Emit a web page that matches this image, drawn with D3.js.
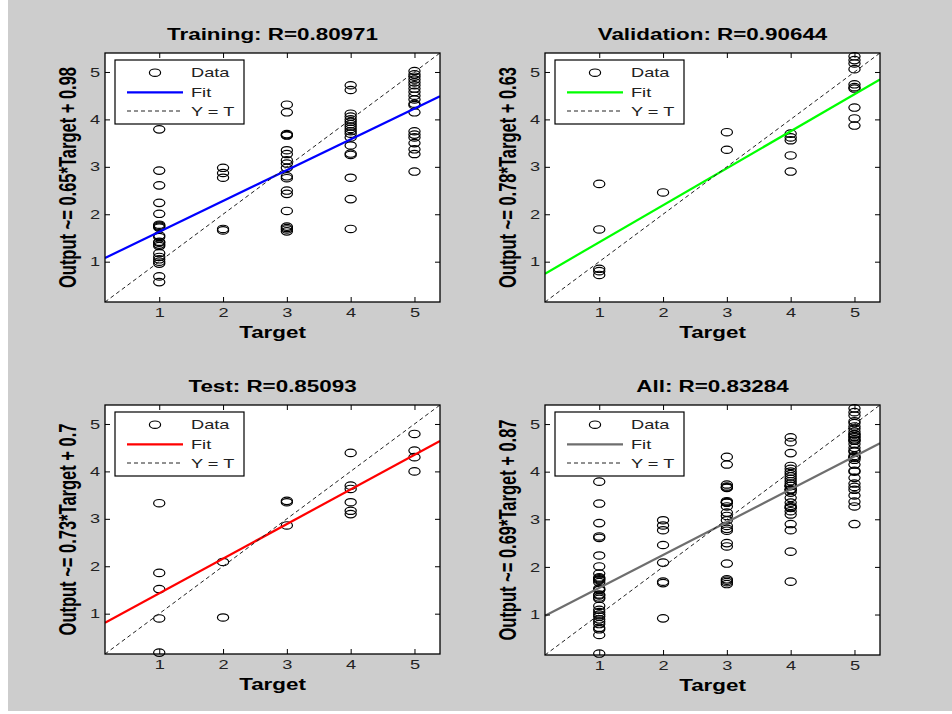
<!DOCTYPE html>
<html>
<head>
<meta charset="utf-8">
<script src="https://cdn.jsdelivr.net/npm/d3@7"></script>
<style>
  html, body { margin: 0; padding: 0; background: #ffffff; }
  svg { display: block; font-family: Arial, "Liberation Sans", sans-serif; }
</style>
</head>
<body>
<svg id="chart" width="952" height="714"></svg>
<script>
// Regression of network output against target, one panel per data subset.
const panelTitles = ["Training: R=0.80971", "Validation: R=0.90644", "Test: R=0.85093", "All: R=0.83284"];
const yAxisLabels = [
  "Output ~= 0.65*Target + 0.98",
  "Output ~= 0.78*Target + 0.63",
  "Output ~= 0.73*Target + 0.7",
  "Output ~= 0.69*Target + 0.87"
];
const fitSlopes = [0.65, 0.78, 0.73, 0.69];
const fitIntercepts = [0.98, 0.63, 0.7, 0.87];
const targetTicks = [1, 2, 3, 4, 5];
const outputTicks = [1, 2, 3, 4, 5];
const axisLimits = [0.15, 5.4];
const legendLabels = ["Data", "Fit", "Y = T"];

// Outputs grouped by target class (index 0 -> target 1, ... index 4 -> target 5)
const trainingOutputs = [
  [3.79, 2.92, 2.61, 2.24, 2.01, 1.78, 1.76, 1.74, 1.72, 1.55, 1.52, 1.42, 1.40, 1.36, 1.33, 1.18, 1.10, 1.05, 1.00, 0.96, 0.69, 0.57],
  [2.98, 2.87, 2.77, 1.69, 1.66],
  [4.31, 4.15, 3.69, 3.67, 3.66, 3.35, 3.27, 3.14, 3.07, 2.98, 2.80, 2.76, 2.50, 2.43, 2.07, 1.74, 1.71, 1.68, 1.64],
  [4.72, 4.62, 4.12, 4.06, 4.00, 3.95, 3.90, 3.85, 3.80, 3.75, 3.70, 3.62, 3.45, 3.28, 3.25, 2.77, 2.32, 1.69],
  [5.02, 4.95, 4.90, 4.84, 4.78, 4.72, 4.65, 4.58, 4.50, 4.42, 4.33, 4.30, 4.15, 3.75, 3.68, 3.62, 3.50, 3.37, 3.27, 2.90]
];
const validationOutputs = [
  [2.64, 1.68, 0.85, 0.80, 0.72],
  [2.46],
  [3.73, 3.36],
  [3.70, 3.62, 3.56, 3.24, 2.90],
  [5.33, 5.25, 5.18, 5.06, 4.74, 4.68, 4.65, 4.25, 4.02, 3.87]
];
const testOutputs = [
  [3.33, 1.86, 1.52, 0.90, 0.18],
  [2.09, 0.92],
  [3.38, 3.35, 2.86],
  [4.39, 3.70, 3.63, 3.35, 3.17, 3.10],
  [4.79, 4.44, 4.30, 4.00]
];
// The "All" panel pools every subset
const allOutputs = targetTicks.map((t, i) =>
  trainingOutputs[i].concat(validationOutputs[i], testOutputs[i]));

const subsetOutputs = [trainingOutputs, validationOutputs, testOutputs, allOutputs];
const fitColors = ["#0000ff", "#00ff00", "#ff0000", "#6e6e6e"];

// Layout
const SX = 1.4; // horizontal stretch of glyphs and markers
const panelBoxes = [
  { left: 105, top: 53, right: 440, bottom: 302 },
  { left: 545, top: 53, right: 880, bottom: 302 },
  { left: 105, top: 405, right: 440, bottom: 654 },
  { left: 545, top: 405, right: 880, bottom: 655 }
];

const svg = d3.select("#chart");

svg.append("rect")
  .attr("x", 8).attr("y", 0).attr("width", 944).attr("height", 711)
  .attr("fill", "#cdcdcd");

function stretched(sel, x, y, extra) {
  return sel.attr("transform", `translate(${x},${y}) scale(${SX},1)` + (extra || ""));
}

panelBoxes.forEach((box, i) => {
  const g = svg.append("g");
  const x = d3.scaleLinear().domain(axisLimits).range([box.left, box.right]);
  const y = d3.scaleLinear().domain(axisLimits).range([box.bottom, box.top]);
  const cx = (box.left + box.right) / 2;
  const cy = (box.top + box.bottom) / 2;

  g.append("rect")
    .attr("x", box.left).attr("y", box.top)
    .attr("width", box.right - box.left).attr("height", box.bottom - box.top)
    .attr("fill", "#ffffff");

  const clipId = "clip" + i;
  g.append("clipPath").attr("id", clipId)
    .append("rect")
    .attr("x", box.left).attr("y", box.top)
    .attr("width", box.right - box.left).attr("height", box.bottom - box.top);

  // Data points
  const pts = [];
  subsetOutputs[i].forEach((outs, k) => outs.forEach(o => pts.push([targetTicks[k], o])));
  g.append("g").selectAll("ellipse").data(pts).join("ellipse")
    .attr("cx", d => x(d[0])).attr("cy", d => y(d[1]))
    .attr("rx", 5.6).attr("ry", 3.7)
    .attr("fill", "none").attr("stroke", "#000").attr("stroke-width", 1.2);

  const lines = g.append("g").attr("clip-path", `url(#${clipId})`);
  // Linear fit
  const fit = t => fitSlopes[i] * t + fitIntercepts[i];
  lines.append("line")
    .attr("x1", x(axisLimits[0])).attr("y1", y(fit(axisLimits[0])))
    .attr("x2", x(axisLimits[1])).attr("y2", y(fit(axisLimits[1])))
    .attr("stroke", fitColors[i]).attr("stroke-width", 2.2);
  // Identity line Y = T
  lines.append("line")
    .attr("x1", x(axisLimits[0])).attr("y1", y(axisLimits[0]))
    .attr("x2", x(axisLimits[1])).attr("y2", y(axisLimits[1]))
    .attr("stroke", "#222").attr("stroke-width", 1).attr("stroke-dasharray", "4,3");

  // Axes with inward ticks on all four sides
  const fmt = d3.format("d");
  const bottomAxis = g.append("g").attr("transform", `translate(0,${box.bottom})`)
    .call(d3.axisBottom(x).tickValues(targetTicks).tickFormat(fmt).tickSizeInner(-5).tickSizeOuter(0).tickPadding(6));
  const leftAxis = g.append("g").attr("transform", `translate(${box.left},0)`)
    .call(d3.axisLeft(y).tickValues(outputTicks).tickFormat(fmt).tickSizeInner(-5).tickSizeOuter(0).tickPadding(5));
  g.append("g").attr("transform", `translate(0,${box.top})`)
    .call(d3.axisTop(x).tickValues(targetTicks).tickSizeInner(-5).tickSizeOuter(0).tickFormat(""));
  g.append("g").attr("transform", `translate(${box.right},0)`)
    .call(d3.axisRight(y).tickValues(outputTicks).tickSizeInner(-5).tickSizeOuter(0).tickFormat(""));

  g.selectAll(".domain").remove();
  g.selectAll(".tick line").attr("stroke", "#000");
  bottomAxis.selectAll("text")
    .attr("font-size", 13).attr("fill", "#222").attr("font-family", null)
    .attr("transform", `scale(${SX},1)`);
  leftAxis.selectAll("text")
    .attr("font-size", 13).attr("fill", "#222").attr("font-family", null)
    .attr("x", -5 / SX)
    .attr("transform", `scale(${SX},1)`);

  g.append("rect")
    .attr("x", box.left).attr("y", box.top)
    .attr("width", box.right - box.left).attr("height", box.bottom - box.top)
    .attr("fill", "none").attr("stroke", "#000").attr("stroke-width", 1.3);

  // Titles and axis labels
  stretched(g.append("text"), cx, box.top - 13)
    .attr("text-anchor", "middle").attr("font-size", 16).attr("font-weight", "bold")
    .attr("fill", "#000").text(panelTitles[i]);
  stretched(g.append("text"), cx, box.bottom + 36)
    .attr("text-anchor", "middle").attr("font-size", 16).attr("font-weight", "bold")
    .attr("fill", "#000").text("Target");
  stretched(g.append("text"), box.left - 29, cy, " rotate(-90)")
    .attr("text-anchor", "middle").attr("font-size", 16.5).attr("font-weight", "bold")
    .attr("fill", "#000").text(yAxisLabels[i]);

  // Legend
  const lg = g.append("g").attr("transform", `translate(${box.left + 10},${box.top + 7})`);
  lg.append("rect").attr("width", 129).attr("height", 64)
    .attr("fill", "#fff").attr("stroke", "#000").attr("stroke-width", 1.2);
  const rowY = [12.7, 32.3, 51];
  lg.append("ellipse").attr("cx", 40).attr("cy", rowY[0]).attr("rx", 5.6).attr("ry", 3.7)
    .attr("fill", "none").attr("stroke", "#000").attr("stroke-width", 1.2);
  lg.append("line").attr("x1", 12).attr("x2", 68).attr("y1", rowY[1]).attr("y2", rowY[1])
    .attr("stroke", fitColors[i]).attr("stroke-width", 2.2);
  lg.append("line").attr("x1", 12).attr("x2", 68).attr("y1", rowY[2]).attr("y2", rowY[2])
    .attr("stroke", "#222").attr("stroke-width", 1).attr("stroke-dasharray", "4,3");
  legendLabels.forEach((lab, r) => {
    stretched(lg.append("text"), 76, rowY[r])
      .attr("dy", "0.36em").attr("font-size", 13).attr("fill", "#222").text(lab);
  });
});
</script>
</body>
</html>
